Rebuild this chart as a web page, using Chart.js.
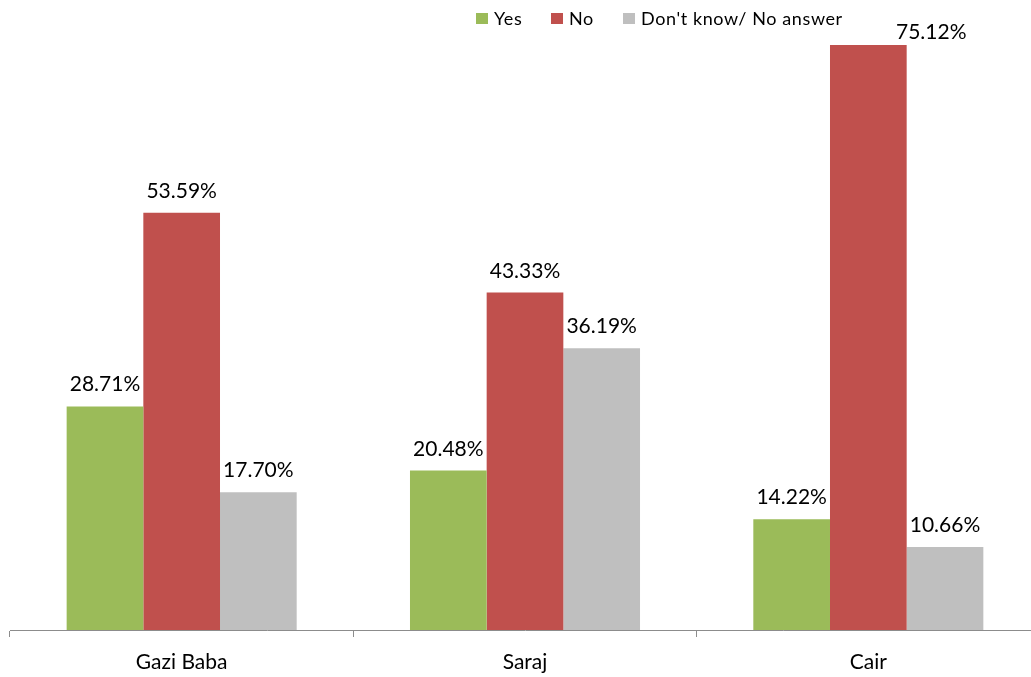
<!DOCTYPE html>
<html>
<head>
<meta charset="utf-8">
<script src="https://cdn.jsdelivr.net/npm/chart.js@4"></script>
<style>
  html, body { margin: 0; padding: 0; background: #fff; overflow: hidden; }
  #wrap { position: relative; width: 1031px; height: 677px; overflow: hidden; }
  #legend { position: absolute; top: 0; left: 0; font-family: Lato, sans-serif; font-size: 18px; line-height: 20px; color: #000; white-space: nowrap; letter-spacing: 0.6px; }
  #legend span.item { position: absolute; top: 8px; display: inline-flex; align-items: center; }
  #legend span.box { display: inline-block; width: 12px; height: 11px; margin-right: 6px; }
</style>
</head>
<body>
<div id="wrap">
  <canvas id="chart" width="1040" height="677"></canvas>
  <div id="legend"></div>
</div>
<script>
// chart data
const categories = ['Gazi Baba', 'Saraj', 'Cair'];
const seriesNames = ['Yes', 'No', "Don't know/ No answer"];
const yesValues = [28.71, 20.48, 14.22];
const noValues = [53.59, 43.33, 75.12];
const dkValues = [17.70, 36.19, 10.66];
const seriesColors = ['#9BBB59', '#C0504D', '#BFBFBF'];
const legendLeft = [476, 551, 623];

const FONT = 'Lato, sans-serif';

// value labels above each bar
const barLabels = {
  id: 'barLabels',
  afterDatasetsDraw(chart) {
    const ctx = chart.ctx;
    ctx.save();
    ctx.font = '21px ' + FONT;
    ctx.fillStyle = '#000';
    ctx.textAlign = 'center';
    ctx.textBaseline = 'alphabetic';
    chart.data.datasets.forEach((ds, i) => {
      chart.getDatasetMeta(i).data.forEach((bar, j) => {
        let x = bar.x;
        let y = bar.y - 15;
        // very tall bar: label would run into the legend, so nudge it right/down
        if (bar.y < 70) {
          x = bar.x + bar.width * 0.82;
          y = bar.y - 6;
        }
        ctx.fillText(ds.data[j].toFixed(2) + '%', x, y);
      });
    });
    ctx.restore();
  }
};

const allSeries = [yesValues, noValues, dkValues];

const chart = new Chart(document.getElementById('chart').getContext('2d'), {
  type: 'bar',
  data: {
    labels: categories,
    datasets: allSeries.map((vals, i) => ({
      label: seriesNames[i],
      data: vals,
      backgroundColor: seriesColors[i],
      borderWidth: 0,
      categoryPercentage: 0.67,
      barPercentage: 1.0
    }))
  },
  options: {
    responsive: false,
    animation: false,
    layout: { padding: { left: 10, right: 0, top: 7, bottom: 4 } },
    scales: {
      x: {
        offset: true,
        afterFit(scale) { scale.height = 43; },
        grid: {
          offset: true,
          drawOnChartArea: false,
          drawTicks: true,
          tickLength: 7,
          color: '#8c8c8c',
          lineWidth: 1
        },
        border: { color: '#8c8c8c', width: 1 },
        ticks: {
          color: '#000',
          padding: 13,
          font: { family: FONT, size: 21 }
        }
      },
      y: {
        display: false,
        min: 0,
        max: 80
      }
    },
    plugins: {
      legend: { display: false },
      tooltip: { enabled: false }
    }
  },
  plugins: [barLabels]
});

// html legend
const legend = document.getElementById('legend');
seriesNames.forEach((name, i) => {
  const item = document.createElement('span');
  item.className = 'item';
  item.style.left = legendLeft[i] + 'px';
  const box = document.createElement('span');
  box.className = 'box';
  box.style.background = seriesColors[i];
  item.appendChild(box);
  item.appendChild(document.createTextNode(name));
  legend.appendChild(item);
});
</script>
</body>
</html>
